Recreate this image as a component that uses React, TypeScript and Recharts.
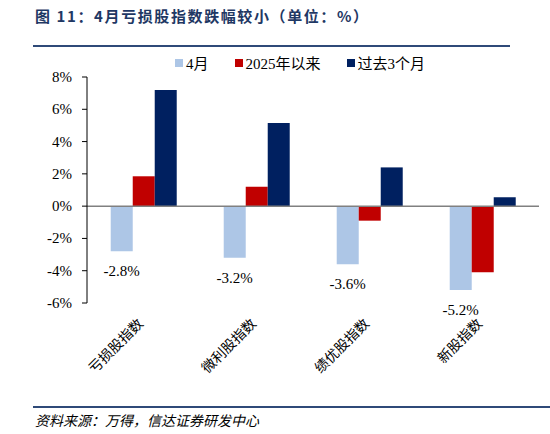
import React from 'react';
import { BarChart, Bar, XAxis, YAxis, ReferenceLine, LabelList } from 'recharts';

const categories = ['亏损股指数', '微利股指数', '绩优股指数', '新股指数'];
const april = [-2.8, -3.2, -3.6, -5.2];
const since2025 = [1.85, 1.2, -0.9, -4.1];
const past3m = [7.2, 5.15, 2.4, 0.55];
const yTicks = [-6, -4, -2, 0, 2, 4, 6, 8];

const seriesInfo = [
    { key: 'april', name: '4月', color: '#adc6e6' },
    { key: 'since2025', name: '2025年以来', color: '#c00000' },
    { key: 'past3m', name: '过去3个月', color: '#002060' },
];

const data = categories.map((name, i) => ({
    name,
    april: april[i],
    since2025: since2025[i],
    past3m: past3m[i],
}));

const serif = '"Liberation Serif", "Times New Roman", "Noto Sans CJK SC", serif';
const cjk = '"Noto Sans CJK SC", sans-serif';

function CategoryTick(props: any) {
    const { x, y, payload } = props;
    return (
        <g transform={`translate(${x - 3},${y + 10})`}>
            <text transform="rotate(-45)" textAnchor="end" dy={5} fontSize={14} style={{ fontFamily: cjk }} fill="#000">
                {payload.value}
            </text>
        </g>
    );
}

function PercentTick(props: any) {
    const { x, y, payload } = props;
    return (
        <text x={x - 8} y={y} textAnchor="end" dominantBaseline="central" fontSize={15}
            style={{ fontFamily: serif }} fill="#000">
            {`${payload.value}%`}
        </text>
    );
}

function BelowLabel(props: any) {
    const { x, y, width, height, value } = props;
    const bottom = Math.max(y, y + height);
    return (
        <text x={x + width / 2} y={bottom + 20} textAnchor="middle" dominantBaseline="central"
            fontSize={15} style={{ fontFamily: serif }} fill="#000">
            {`${value.toFixed(1)}%`}
        </text>
    );
}

export default function App() {
    return (
        <div style={{ position: 'absolute', left: 0, top: 0, width: 550, height: 434, background: '#fff', overflow: 'hidden' }}>
            <div style={{ position: 'absolute', left: 35, top: 5, fontFamily: cjk, fontWeight: 700, fontSize: 15, color: '#1f3864', letterSpacing: 1.6 }}>
                图 11：4月亏损股指数跌幅较小（单位：%）
            </div>
            <div style={{ position: 'absolute', left: 33, top: 45, width: 477, height: 2, background: '#2f4a78' }} />
            <div style={{ position: 'absolute', left: 175, top: 52, display: 'flex', gap: 26, fontFamily: serif, fontSize: 15, color: '#000' }}>
                {seriesInfo.map((s) => (
                    <span key={s.key} style={{ display: 'flex', alignItems: 'center' }}>
                        <span style={{ width: 8, height: 8, background: s.color, marginRight: 3, display: 'inline-block' }} />
                        {s.name}
                    </span>
                ))}
            </div>
            <div style={{ position: 'absolute', left: 0, top: 0 }}>
                <BarChart width={550} height={434} data={data} margin={{ top: 77, right: 11, bottom: 101, left: 27 }}
                    barCategoryGap="21%" barGap={0}>
                    <XAxis dataKey="name" height={30} axisLine={false} tickLine={false} tick={<CategoryTick />} interval={0} />
                    <YAxis width={60} domain={[-6, 8]} ticks={yTicks}
                        axisLine={{ stroke: '#000' }} tickLine={{ stroke: '#000' }} tickSize={5}
                        tick={<PercentTick />} />
                    <ReferenceLine y={0} stroke="#808080" strokeWidth={1.5} />
                    {seriesInfo.map((s) => (
                        <Bar key={s.key} dataKey={s.key} name={s.name} fill={s.color} isAnimationActive={false}>
                            {s.key === 'april' ? <LabelList dataKey="april" content={<BelowLabel />} /> : null}
                        </Bar>
                    ))}
                </BarChart>
            </div>
            <div style={{ position: 'absolute', left: 33, top: 406, width: 517, height: 2, background: '#2f4a78' }} />
            <div style={{ position: 'absolute', left: 35, top: 410, fontFamily: cjk, fontStyle: 'italic', fontSize: 14, color: '#000' }}>
                资料来源：万得，信达证券研发中心
            </div>
        </div>
    );
}
